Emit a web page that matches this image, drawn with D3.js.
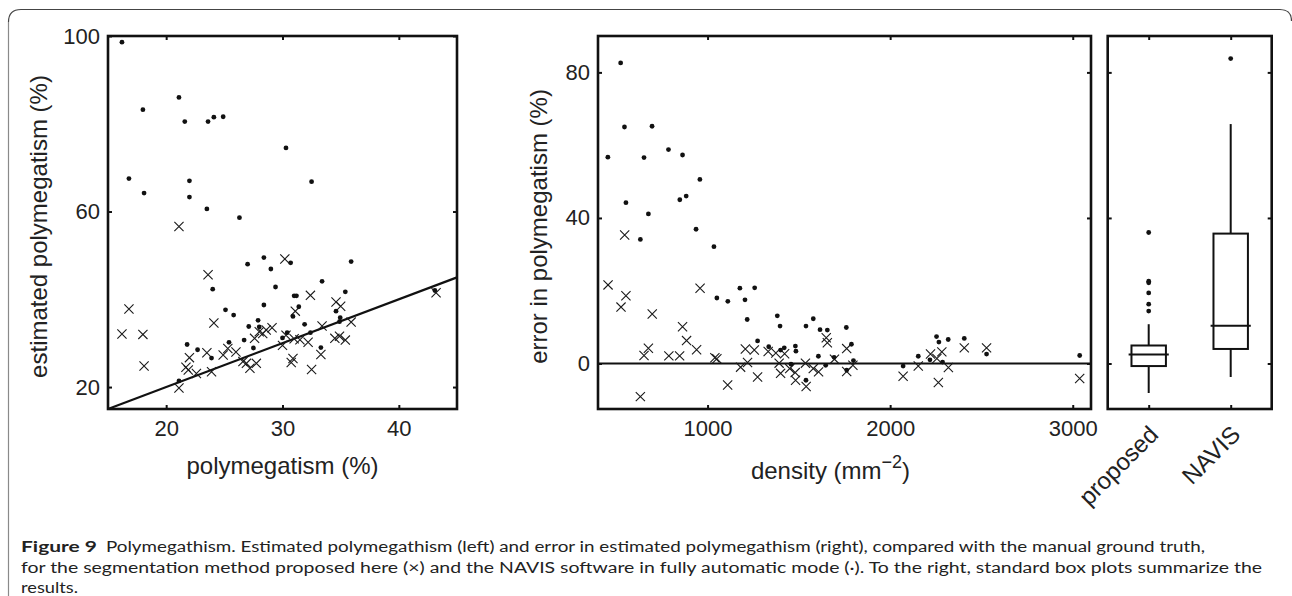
<!DOCTYPE html>
<html>
<head>
<meta charset="utf-8">
<script src="https://cdn.jsdelivr.net/npm/d3@7"></script>
<style>
  html, body { margin: 0; padding: 0; background: #fff; }
  svg { display: block; }
  text { fill: #222; }
</style>
</head>
<body>
<svg id="chart" width="1292" height="596"></svg>
<script>
// ---------------- DATA ----------------
// Left panel: true polymegatism (%) vs estimated polymegatism (%)
const leftProposedTrue = [21.1,30.2,23.6,16.8,24.1,16.2,18.0,18.1,21.1,22.0,21.7,21.9,22.6,23.5,23.9,24.9,25.3,26.0,26.6,27.2,26.9,27.75,27.6,28.0,28.3,28.6,29.1,30.0,32.4,34.6,35.0,31.1,43.2,33.4,35.9,30.3,31.0,31.5,32.2,34.5,34.9,35.4,33.3,30.9,30.75,32.5];
const leftProposedEst  = [56.6,49.2,45.6,37.8,34.6,32.1,32.0,24.8,19.8,26.7,24.5,23.9,23.1,27.8,23.5,27.3,28.8,28.0,25.8,24.3,25.4,25.4,31.1,32.6,32.2,33.0,33.5,29.5,40.9,39.4,38.4,37.3,41.5,33.9,34.8,31.8,31.0,30.8,30.2,31.1,31.6,30.7,27.4,26.5,25.6,24.0];
const leftNavisTrue = [16.2,21.1,18.0,21.6,23.6,24.1,24.9,30.3,16.8,22.0,32.5,18.1,22.0,23.5,26.3,30.7,28.4,27.0,29.0,35.9,33.4,29.4,24.0,35.4,43.1,31.0,31.2,28.4,31.4,30.9,34.6,25.1,25.8,34.96,34.9,27.9,31.9,27.1,28.0,32.4,30.4,30.0,21.8,22.7,25.4,26.7,27.5,33.3,23.9,21.1];
const leftNavisEst  = [98.6,86.0,83.2,80.5,80.5,81.5,81.6,74.5,67.5,67.0,66.8,64.2,63.3,60.6,58.6,48.3,49.5,48.0,46.9,48.6,44.1,42.8,42.3,41.7,42.0,40.8,40.8,38.7,38.3,36.1,37.3,37.6,36.4,35.8,34.9,35.2,34.3,33.8,33.7,32.4,32.4,31.2,29.7,28.5,30.2,30.7,28.9,29.0,26.6,21.4];
const identityLine = [15, 45];

// Middle panel: density (mm^-2) vs error in polymegatism (%)
const midProposedDensity = [455,526,546,553,632,652,676,697,788,847,863,885,940,959,1040,1051,1110,1181,1207,1219,1256,1274,1332,1374,1422,1392,1400,1450,1480,1482,1540,1536,1579,1608,1650,1656,1695,1762,1762,1796,2071,2154,2221,2256,2283,2319,2264,2406,2528,3038];
const midProposedError   = [21.6,15.5,35.3,18.6,-9.1,2.2,4.2,13.6,2.1,2.1,10.1,6.3,3.8,20.7,1.6,1.3,-5.9,-1.0,4.0,0.3,3.7,-3.7,3.3,2.9,2.7,0.1,-2.7,-1.4,-2.5,-4.6,-6.3,0.1,-1.4,-2.3,7.1,5.7,1.2,4.1,-2.2,-0.5,-3.5,-0.7,2.6,1.4,3.2,-1.1,-5.2,4.3,4.3,-4.1];
const midNavisDensity = [524,545,696,454,652,786,863,958,553,848,883,676,937,632,1035,1051,1111,1177,1258,1205,1217,1382,1397,1539,1579,1616,1656,1274,1335,1400,1420,1481,1484,1607,1693,1647,1539,1457,1760,1788,1799,1762,2071,2154,2218,2254,2267,2318,2287,2406,2528,3038];
const midNavisError   = [82.6,65.0,65.2,56.7,56.6,58.8,57.3,50.6,44.2,45.0,46.0,41.1,36.9,34.1,32.1,18.0,17.1,20.7,20.8,17.5,12.1,13.1,10.3,10.3,12.3,9.3,9.2,6.2,4.6,3.7,4.3,4.8,3.4,2.0,1.7,-0.5,-4.6,-0.2,9.9,5.3,0.8,-1.8,-0.7,2.0,1.0,7.4,5.9,6.6,0.4,6.9,2.6,2.2];

// Right panel: box plots of error
const boxCategories = ["proposed", "NAVIS"];
const boxQ1 = [-0.7, 4.0];
const boxMedian = [2.5, 10.4];
const boxQ3 = [4.95, 35.7];
const boxWhiskerLow = [-8.1, -3.7];
const boxWhiskerHigh = [10.8, 65.8];
const boxOutliers = [[36.0, 22.6, 22.2, 19.4, 16.3, 14.4], [83.8]];

// Ticks
const leftXTicks = [20, 30, 40];
const leftYTicks = [20, 60, 100];
const midXTicks = [1000, 2000, 3000];
const midYTicks = [0, 40, 80];

// Texts
const leftXLabel = "polymegatism (%)";
const leftYLabel = "estimated polymegatism (%)";
const midXLabel = ["density (mm", "\u22122", ")"];
const midYLabel = "error in polymegatism (%)";
const captionBold = "Figure 9";
const captionLine1 = "Polymegathism. Estimated polymegathism (left) and error in estimated polymegathism (right), compared with the manual ground truth,";
const captionLine2 = "for the segmentation method proposed here (\u00d7) and the NAVIS software in fully automatic mode (\u00b7). To the right, standard box plots summarize the";
const captionLine3 = "results.";

// ---------------- LAYOUT ----------------
const svg = d3.select("#chart");
const FONT = "'Liberation Sans', Arial, Helvetica, sans-serif";
const TICK_FS = 22, LABEL_FS = 24;
const plotTop = 36, plotBottom = 409;

// frame
svg.append("path")
  .attr("d", "M8.5,22 Q8.5,9.5 21,9.5 L1280,9.5 Q1291.5,9.5 1291.5,21")
  .attr("fill", "none").attr("stroke", "#444").attr("stroke-width", 1.2);
svg.append("line").attr("x1", 8.5).attr("x2", 8.5).attr("y1", 22).attr("y2", 596)
  .attr("stroke", "#8a8a8a").attr("stroke-width", 1.2);

function frameAxes(g, x, y, opts) {
  const w = x.range()[1] - x.range()[0];
  const h = y.range()[0] - y.range()[1];
  const x0 = x.range()[0], y0 = y.range()[1];
  const bottom = d3.axisBottom(x).tickValues(opts.xTicks).tickSize(-4).tickPadding(11).tickFormat(d3.format("d"));
  g.append("g").attr("transform", `translate(0,${y.range()[0]})`).call(bottom);
  g.append("g").attr("transform", `translate(0,${y0})`)
    .call(d3.axisTop(x).tickValues(opts.xTicks).tickSize(-4).tickFormat(""));
  const left = d3.axisLeft(y).tickValues(opts.yTicks).tickSize(-4).tickPadding(8).tickFormat(d3.format("d"));
  g.append("g").attr("transform", `translate(${x0},0)`).call(left);
  g.append("g").attr("transform", `translate(${x.range()[1]},0)`)
    .call(d3.axisRight(y).tickValues(opts.yTicks).tickSize(-4).tickFormat(""));
  g.selectAll(".domain").remove();
  g.selectAll(".tick line").attr("stroke", "#111").attr("stroke-width", 2);
  g.selectAll(".tick text").attr("font-family", FONT).attr("font-size", TICK_FS).attr("fill", "#222");
  g.append("rect").attr("x", x0).attr("y", y0).attr("width", w).attr("height", h)
    .attr("fill", "none").attr("stroke", "#111").attr("stroke-width", 2.6);
}

function drawCrosses(g, xs, ys, x, y) {
  const s = 4.6;
  g.append("g").selectAll("path").data(xs.map((v, i) => [v, ys[i]])).join("path")
    .attr("d", d => {
      const cx = x(d[0]), cy = y(d[1]);
      return `M${cx - s},${cy - s}L${cx + s},${cy + s}M${cx - s},${cy + s}L${cx + s},${cy - s}`;
    })
    .attr("stroke", "#1a1a1a").attr("stroke-width", 1.1).attr("fill", "none");
}
function drawDots(g, xs, ys, x, y) {
  g.append("g").selectAll("circle").data(xs.map((v, i) => [v, ys[i]])).join("circle")
    .attr("cx", d => x(d[0])).attr("cy", d => y(d[1])).attr("r", 2.4).attr("fill", "#111");
}

// ---------- Left panel ----------
{
  const x = d3.scaleLinear().domain([15, 45]).range([108, 457]);
  const y = d3.scaleLinear().domain([15, 100]).range([plotBottom, plotTop]);
  const g = svg.append("g");
  g.append("line")
    .attr("x1", x(identityLine[0])).attr("y1", y(identityLine[0]))
    .attr("x2", x(identityLine[1])).attr("y2", y(identityLine[1]))
    .attr("stroke", "#111").attr("stroke-width", 2.2);
  drawCrosses(g, leftProposedTrue, leftProposedEst, x, y);
  drawDots(g, leftNavisTrue, leftNavisEst, x, y);
  frameAxes(g, x, y, { xTicks: leftXTicks, yTicks: leftYTicks });
  g.append("text").attr("x", (x.range()[0] + x.range()[1]) / 2).attr("y", 474)
    .attr("text-anchor", "middle").attr("font-family", FONT).attr("font-size", LABEL_FS)
    .text(leftXLabel);
  g.append("text").attr("transform", `translate(47,${(plotTop + plotBottom) / 2 + 4}) rotate(-90)`)
    .attr("text-anchor", "middle").attr("font-family", FONT).attr("font-size", LABEL_FS)
    .text(leftYLabel);
}

// ---------- Middle panel ----------
const midY = d3.scaleLinear().domain([-12.5, 90]).range([plotBottom, plotTop]);
{
  const x = d3.scaleLinear().domain([400, 3100]).range([598, 1091]);
  const y = midY;
  const g = svg.append("g");
  g.append("line")
    .attr("x1", x.range()[0]).attr("x2", x.range()[1])
    .attr("y1", y(0)).attr("y2", y(0))
    .attr("stroke", "#111").attr("stroke-width", 2.2);
  drawCrosses(g, midProposedDensity, midProposedError, x, y);
  drawDots(g, midNavisDensity, midNavisError, x, y);
  frameAxes(g, x, y, { xTicks: midXTicks, yTicks: midYTicks });
  const t = g.append("text").attr("x", (x.range()[0] + x.range()[1]) / 2 - 14).attr("y", 479)
    .attr("text-anchor", "middle").attr("font-family", FONT).attr("font-size", LABEL_FS);
  t.append("tspan").text(midXLabel[0]);
  t.append("tspan").attr("dy", -11).attr("font-size", 18).text(midXLabel[1]);
  t.append("tspan").attr("dy", 11).text(midXLabel[2]);
  g.append("text").attr("transform", `translate(547,${(plotTop + plotBottom) / 2 + 4}) rotate(-90)`)
    .attr("text-anchor", "middle").attr("font-family", FONT).attr("font-size", LABEL_FS)
    .text(midYLabel);
}

// ---------- Right panel (box plots) ----------
{
  const x = d3.scalePoint().domain(boxCategories).range([1107.7, 1271.7]).padding(0.5);
  const y = midY;
  const g = svg.append("g");
  const step = x.step();
  const boxW = step * 0.42, medW = step * 0.49;
  boxCategories.forEach((c, i) => {
    const cx = x(c);
    g.append("line").attr("x1", cx).attr("x2", cx).attr("y1", y(boxQ3[i])).attr("y2", y(boxWhiskerHigh[i]))
      .attr("stroke", "#111").attr("stroke-width", 2);
    g.append("line").attr("x1", cx).attr("x2", cx).attr("y1", y(boxQ1[i])).attr("y2", y(boxWhiskerLow[i]))
      .attr("stroke", "#111").attr("stroke-width", 2);
    g.append("rect").attr("x", cx - boxW / 2).attr("y", y(boxQ3[i]))
      .attr("width", boxW).attr("height", y(boxQ1[i]) - y(boxQ3[i]))
      .attr("fill", "none").attr("stroke", "#111").attr("stroke-width", 2);
    g.append("line").attr("x1", cx - medW / 2).attr("x2", cx + medW / 2)
      .attr("y1", y(boxMedian[i])).attr("y2", y(boxMedian[i]))
      .attr("stroke", "#111").attr("stroke-width", 2);
    g.append("g").selectAll("circle").data(boxOutliers[i]).join("circle")
      .attr("cx", cx).attr("cy", d => y(d)).attr("r", 2.4).attr("fill", "#111");
  });
  const w = x.range()[1] - x.range()[0];
  g.append("g").attr("transform", `translate(0,${plotBottom})`)
    .call(d3.axisBottom(x).tickSize(-4).tickFormat(""));
  g.append("g").attr("transform", `translate(0,${plotTop})`)
    .call(d3.axisTop(x).tickSize(-4).tickFormat(""));
  g.append("g").attr("transform", `translate(${x.range()[0]},0)`)
    .call(d3.axisLeft(y).tickValues(midYTicks).tickSize(-4).tickFormat(""));
  g.append("g").attr("transform", `translate(${x.range()[1]},0)`)
    .call(d3.axisRight(y).tickValues(midYTicks).tickSize(-4).tickFormat(""));
  g.selectAll(".domain").remove();
  g.selectAll(".tick line").attr("stroke", "#111").attr("stroke-width", 2);
  g.append("rect").attr("x", x.range()[0]).attr("y", plotTop).attr("width", w).attr("height", plotBottom - plotTop)
    .attr("fill", "none").attr("stroke", "#111").attr("stroke-width", 2.6);
  g.selectAll("text.cat").data(boxCategories).join("text").attr("class", "cat")
    .attr("transform", d => `translate(${x(d) + 11},${plotBottom + 27}) rotate(-45)`)
    .attr("text-anchor", "end").attr("font-family", FONT).attr("font-size", LABEL_FS)
    .text(d => d);
}

// ---------- Caption ----------
const CAP_FONT = "Lato, 'Open Sans', sans-serif";
const capFS = 15.5;
svg.append("text").attr("x", 21).attr("y", 552).attr("font-family", CAP_FONT).attr("font-size", capFS)
  .attr("font-weight", "bold").attr("fill", "#231f20")
  .attr("textLength", 76).attr("lengthAdjust", "spacingAndGlyphs").text(captionBold);
svg.append("text").attr("x", 106).attr("y", 552).attr("font-family", CAP_FONT).attr("font-size", capFS)
  .attr("fill", "#231f20").attr("textLength", 1099).attr("lengthAdjust", "spacingAndGlyphs").text(captionLine1);
svg.append("text").attr("x", 21).attr("y", 573).attr("font-family", CAP_FONT).attr("font-size", capFS)
  .attr("fill", "#231f20").attr("textLength", 1241).attr("lengthAdjust", "spacingAndGlyphs").text(captionLine2);
svg.append("text").attr("x", 21).attr("y", 592.5).attr("font-family", CAP_FONT).attr("font-size", capFS)
  .attr("fill", "#231f20").attr("textLength", 57).attr("lengthAdjust", "spacingAndGlyphs").text(captionLine3);
</script>
</body>
</html>
